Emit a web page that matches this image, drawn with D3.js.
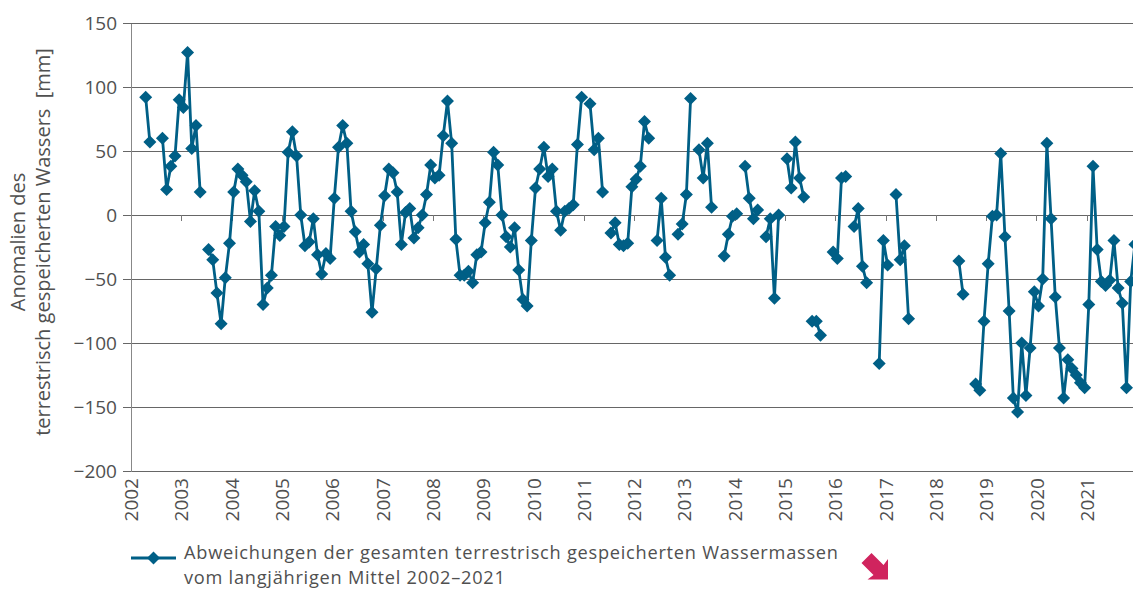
<!DOCTYPE html>
<html>
<head>
<meta charset="utf-8">
<script src="https://cdn.jsdelivr.net/npm/d3@7"></script>
<style>
body { margin: 0; background: #fff; }
text { font-family: "Open Sans", sans-serif; fill: #505050; }
</style>
</head>
<body>
<script>
var w = 1133, h = 590;

// monthly anomalies in mm, one row per year (Jan..Dec), null = no data
var years = [2002, 2003, 2004, 2005, 2006, 2007, 2008, 2009, 2010, 2011,
             2012, 2013, 2014, 2015, 2016, 2017, 2018, 2019, 2020, 2021];
var anomalies = [
    [null, null, null, 92, 57, null, null, 60, 20, 38, 46, 90],
    [84, 127, 52, 70, 18, null, -27, -35, -61, -85, -49, -22],
    [18, 36, 31, 26, -5, 19, 3, -70, -57, -47, -9, -16],
    [-9, 49, 65, 46, 0, -24, -21, -3, -31, -46, -30, -34],
    [13, 53, 70, 56, 3, -13, -29, -23, -38, -76, -42, -8],
    [15, 36, 33, 18, -23, 2, 5, -18, -10, 0, 16, 39],
    [29, 31, 62, 89, 56, -19, -47, -47, -44, -53, -31, -29],
    [-6, 10, 49, 39, 0, -17, -25, -10, -43, -66, -71, -20],
    [21, 36, 53, 30, 36, 3, -12, 3, 5, 8, 55, 92],
    [null, 87, 51, 60, 18, null, -14, -6, -23, -24, -22, 22],
    [28, 38, 73, 60, null, -20, 13, -33, -47, null, -15, -7],
    [16, 91, null, 51, 29, 56, 6, null, null, -32, -15, -1],
    [1, null, 38, 13, -3, 4, null, -17, -3, -65, 0, null],
    [44, 21, 57, 29, 14, null, -83, -83, -94, null, null, -29],
    [-34, 29, 30, null, -9, 5, -40, -53, null, null, -116, -20],
    [-39, null, 16, -35, -24, -81, null, null, null, null, null, null],
    [null, null, null, null, null, -36, -62, null, null, -132, -137, -83],
    [-38, -1, 0, 48, -17, -75, -143, -154, -100, -141, -104, -60],
    [-71, -50, 56, -3, -64, -104, -143, -113, -120, -125, -131, -135],
    [-70, 38, -27, -52, -55, -51, -20, -57, -69, -135, -52, -23]
];
var yTicks = [-200, -150, -100, -50, 0, 50, 100, 150];
var yTitle = ["Anomalien des", "terrestrisch gespeicherten Wassers  [mm]"];
var legendText = ["Abweichungen der gesamten terrestrisch gespeicherten Wassermassen",
                  "vom langjährigen Mittel 2002\u20132021"];

var blue = "#005f86";

var points = [];
years.forEach(function(yr, i) {
    anomalies[i].forEach(function(v, m) {
        points.push({t: yr + (m + 0.5) / 12, v: v});
    });
});

var svg = d3.select("body")
    .append("svg")
    .attr("width", w)
    .attr("height", h);

var xScale = d3.scaleLinear()
    .domain([2002, 2022])
    .range([131, 1137]);

var yScale = d3.scaleLinear()
    .domain([-200, 150])
    .range([471, 23]);

// gridlines
var grid = svg.append("g")
    .attr("transform", "translate(131,0)")
    .call(d3.axisLeft(yScale).tickValues(yTicks).tickSize(-(w - 131)).tickFormat(""));
grid.select(".domain").remove();
grid.selectAll("line").attr("stroke", "#666").attr("shape-rendering", "crispEdges");

// y axis with labels
var yAxis = svg.append("g")
    .attr("transform", "translate(131,0)")
    .call(d3.axisLeft(yScale).tickValues(yTicks).tickSize(8).tickSizeOuter(0).tickPadding(6));
yAxis.select(".domain").attr("stroke", "#888").attr("shape-rendering", "crispEdges");
yAxis.selectAll("line").attr("stroke", "#666").attr("shape-rendering", "crispEdges");
yAxis.selectAll("text")
    .style("font-size", "19px")
    .attr("fill", "#505050");

// small year ticks on the zero line
var xTicks = svg.append("g")
    .attr("transform", "translate(0," + yScale(0) + ")")
    .call(d3.axisBottom(xScale).tickValues(years.slice(1)).tickSize(6).tickFormat(""));
xTicks.select(".domain").remove();
xTicks.selectAll("line").attr("stroke", "#777").attr("shape-rendering", "crispEdges");

// year labels under the plot
var xLabels = svg.append("g")
    .attr("transform", "translate(0," + yScale(-200) + ")")
    .call(d3.axisBottom(xScale).tickValues(years).tickSize(0).tickFormat(d3.format("d")));
xLabels.select(".domain").remove();
xLabels.selectAll("text")
    .style("font-size", "19px")
    .attr("fill", "#505050")
    .attr("text-anchor", "end")
    .attr("transform", "rotate(-90)")
    .attr("x", -7)
    .attr("y", 0)
    .attr("dy", "0.35em");

// y title
svg.append("g")
    .selectAll("text")
    .data(yTitle)
    .enter()
    .append("text")
    .attr("transform", function(d, i) { return "translate(" + (25 + i * 25) + ",242) rotate(-90)"; })
    .attr("text-anchor", "middle")
    .style("font-size", "20px")
    .style("white-space", "pre")
    .text(function(d) { return d; });

// the series
var line = d3.line()
    .defined(function(d) { return d.v !== null; })
    .x(function(d) { return xScale(d.t); })
    .y(function(d) { return yScale(d.v); });

svg.append("path")
    .datum(points)
    .attr("fill", "none")
    .attr("stroke", blue)
    .attr("stroke-width", 2.8)
    .attr("stroke-linejoin", "round")
    .attr("d", line);

function diamond(r) {
    return "M0," + (-r) + "L" + r + ",0L0," + r + "L" + (-r) + ",0Z";
}

svg.append("g")
    .selectAll("path")
    .data(points.filter(function(d) { return d.v !== null; }))
    .enter()
    .append("path")
    .attr("d", diamond(6.5))
    .attr("fill", blue)
    .attr("transform", function(d) { return "translate(" + xScale(d.t) + "," + yScale(d.v) + ")"; });

// legend
var legend = svg.append("g");
legend.append("line")
    .attr("x1", 131).attr("x2", 176)
    .attr("y1", 558).attr("y2", 558)
    .attr("stroke", blue)
    .attr("stroke-width", 2.8);
legend.append("path")
    .attr("d", diamond(6.5))
    .attr("fill", blue)
    .attr("transform", "translate(153.5,558)");
legend.selectAll("text")
    .data(legendText)
    .enter()
    .append("text")
    .attr("x", 184)
    .attr("y", function(d, i) { return 559 + i * 25; })
    .style("font-size", "18.2px")
    .style("letter-spacing", "0.75px")
    .text(function(d) { return d; });

// pink arrow mark
svg.append("path")
    .attr("d", "M871.5,553L861.5,563L873.5,575L867.5,579.5L888,579.5L888,559L883.5,565Z")
    .attr("fill", "#d0245e");
</script>
</body>
</html>
